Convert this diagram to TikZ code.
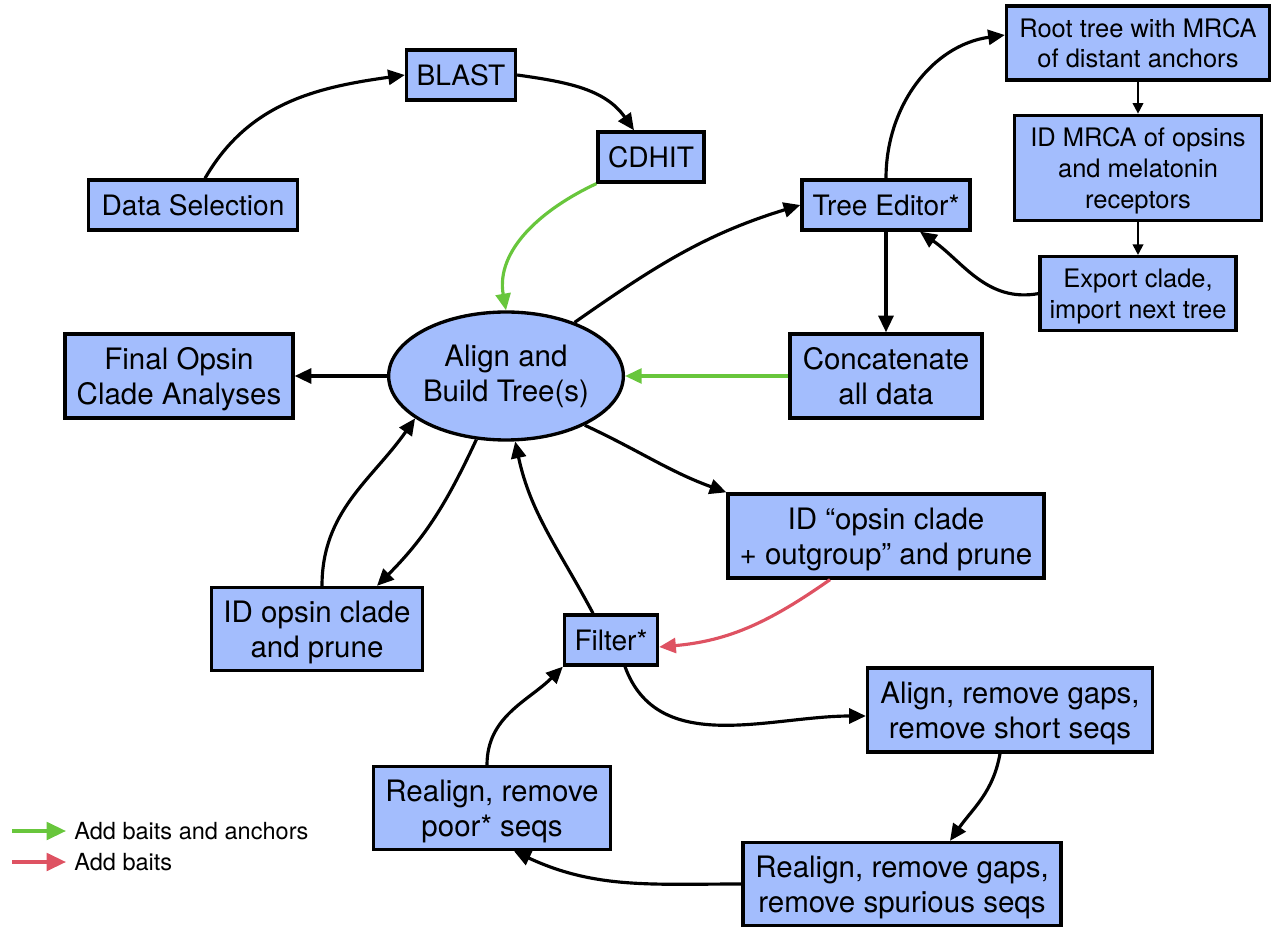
\documentclass[tikz,border=0pt]{standalone}
\usepackage{fontspec}
\setmainfont{TeX Gyre Heros}
\usetikzlibrary{arrows.meta,positioning,shapes.geometric}

\definecolor{boxblue}{RGB}{163,189,253}
\definecolor{baitgreen}{RGB}{104,198,60}
\definecolor{baitred}{RGB}{222,82,98}

\begin{document}
\begin{tikzpicture}[x=0.02cm, y=-0.02cm,
    block/.style={rectangle, draw=black, fill=boxblue, line width=1.9pt, inner sep=1pt, text depth=0pt, align=center, font=\fontsize{16.8}{20}\selectfont},
    midblock/.style={block, font=\fontsize{16}{19}\selectfont},
    smallblock/.style={block, font=\fontsize{14.5}{17.6}\selectfont},
    oval/.style={ellipse, draw=black, fill=boxblue, line width=1.9pt, inner sep=0pt, align=center, font=\fontsize{16.8}{20}\selectfont},
    line/.style={draw, line width=1.8pt, -{Triangle[length=9.5pt,width=8.5pt]}},
    thinline/.style={draw, line width=1.1pt, -{Triangle[length=6pt,width=6pt]}},
    greenline/.style={line, draw=baitgreen},
    redline/.style={line, draw=baitred},
    keyline/.style={draw, line width=1.9pt, -{Triangle[length=11pt,width=10pt]}, shorten >=0.08cm},
    node distance=0.64cm
]
\useasboundingbox (0,0) rectangle (1271,928);

% Define nodes
\node[midblock, minimum width=4.18cm, minimum height=1cm] (datasel) at (193,205) {Data Selection};
\node[midblock, minimum width=2.18cm, minimum height=1cm] (blast) at (461,75) {BLAST};
\node[midblock, minimum width=2.12cm, minimum height=1cm] (cdhit) at (651,157) {CDHIT};
\node[midblock, minimum width=3.36cm, minimum height=1cm] (treeed) at (886,205) {Tree Editor*};
\node[smallblock, minimum width=5.26cm, minimum height=1.48cm] (root) at (1138,43) {Root tree with MRCA\\of distant anchors};
\node[smallblock, minimum width=4.94cm, minimum height=2.1cm, below=of root] (mrca) {ID MRCA of opsins\\and melatonin\\receptors};
\node[smallblock, minimum width=3.92cm, minimum height=1.48cm, below=0.66cm of mrca] (export) {Export clade,\\import next tree};
\node[block, minimum width=4.56cm, minimum height=1.68cm] (final) at (179,376) {Final Opsin\\Clade Analyses};
\node[oval, minimum width=4.22cm, minimum height=2.56cm] (build) at (506,376) {Align and\\Build Tree(s)};
\node[block, minimum width=3.84cm, minimum height=1.68cm] (concat) at (886,376) {Concatenate\\all data};
\node[block, minimum width=6.32cm, minimum height=1.68cm] (outg) at (886,536) {ID “opsin clade\\+ outgroup” and prune};
\node[block, minimum width=4.22cm, minimum height=1.66cm] (prune) at (317,629) {ID opsin clade\\and prune};
\node[midblock, minimum width=1.86cm, minimum height=1cm] (filter) at (611,640) {Filter*};
\node[block, minimum width=5.7cm, minimum height=1.68cm] (align) at (1010,710) {Align, remove gaps,\\remove short seqs};
\node[block, minimum width=4.74cm, minimum height=1.66cm] (poor) at (492,808) {Realign, remove\\poor* seqs};
\node[block, minimum width=6.36cm, minimum height=1.66cm] (spur) at (902,884) {Realign, remove gaps,\\remove spurious seqs};

% Legend
\coordinate (gkey) at (12,831);
\coordinate (rkey) at (12,862);
\node[anchor=west, inner sep=0.08cm, font=\fontsize{13.4}{15}\selectfont] (gtext) at (70,831) {Add baits and anchors};
\node[anchor=west, inner sep=0.08cm, font=\fontsize{13.4}{15}\selectfont] (rtext) at (70,862) {Add baits};

% Connect nodes
\draw[line] ([xshift=0.24cm]datasel.north) to[out=60,in=188] (blast.west);
\draw[line] (blast.east) to[out=-8,in=125] ([xshift=-0.34cm]cdhit.north);
\draw[greenline] (cdhit.south west) to[out=205,in=100] (build.north);
\draw[line] (build.38) to[out=35,in=197] (treeed.west);
\draw[line] (treeed.north) to[out=90,in=188] ([yshift=0.16cm]root.west);
\draw[thinline] (root) -- (mrca);
\draw[thinline] (mrca) -- (export);
\draw[line] (export.west) to[out=190,in=-35] ([xshift=0.68cm]treeed.south);
\draw[line] (treeed) -- (concat);
\draw[greenline] (concat) -- (build);
\draw[line] (build) -- (final);
\draw[line] (build.-32) to[out=-25,in=160] (outg.north west);
\draw[redline] ([xshift=-1.12cm]outg.south) to[out=215,in=5] ([yshift=-0.14cm]filter.east);
\draw[line] ([xshift=-0.36cm]filter.north) to[out=118,in=-78] (build.-82);
\draw[line] (build.245) to[out=-115,in=45] ([xshift=1.2cm]prune.north);
\draw[line] ([xshift=0.1cm]prune.north) to[out=90,in=235] (build.205);
\draw[line] ([xshift=0.28cm]filter.south) to[out=-70,in=180] ([yshift=-0.12cm]align.west);
\draw[line] ([xshift=-0.2cm]align.south) to[out=-100,in=55] ([xshift=0.96cm]spur.north);
\draw[line] (spur.west) to[out=180,in=-25] ([xshift=0.44cm]poor.south);
\draw[line] ([xshift=-0.1cm]poor.north) to[out=90,in=225] (filter.south west);
\draw[keyline, draw=baitgreen] (gkey) -- (gtext.west);
\draw[keyline, draw=baitred] (rkey) -- (rtext.west);

\end{tikzpicture}
\end{document}
